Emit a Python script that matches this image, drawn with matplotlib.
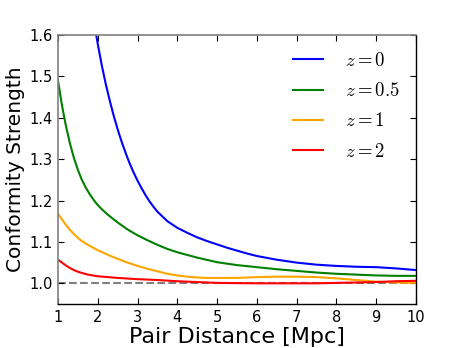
import matplotlib
matplotlib.use("Agg")
import matplotlib.pyplot as plt

plt.rcParams['mathtext.fontset'] = 'cm'
plt.rcParams['font.family'] = ['DejaVu Sans']

x_z0 = [1.8, 1.9, 2.0, 2.1, 2.2, 2.3, 2.4, 2.5, 2.6, 2.7, 2.8, 2.9, 3.0, 3.1, 3.2, 3.3, 3.4, 3.5,
        3.75, 4.0, 4.25, 4.5, 4.75, 5.0, 5.25, 5.5, 5.75, 6.0, 6.5, 7.0, 7.5, 8.0, 8.5, 9.0, 9.5, 10.0]
z0 = [1.700, 1.635, 1.578, 1.527, 1.482, 1.442, 1.405, 1.372, 1.342, 1.315, 1.290, 1.268, 1.248,
      1.230, 1.213, 1.198, 1.185, 1.173, 1.150, 1.134, 1.122, 1.111, 1.102, 1.094, 1.086, 1.079,
      1.072, 1.066, 1.057, 1.050, 1.045, 1.042, 1.040, 1.039, 1.036, 1.032]

x_z05 = [1.0, 1.1, 1.2, 1.3, 1.4, 1.5, 1.6, 1.7, 1.8, 1.9, 2.0, 2.1, 2.25, 2.5, 2.75, 3.0, 3.25,
         3.5, 3.75, 4.0, 4.5, 5.0, 5.5, 6.0, 6.5, 7.0, 7.5, 8.0, 8.5, 9.0, 9.5, 10.0]
z05 = [1.490, 1.430, 1.380, 1.338, 1.303, 1.274, 1.250, 1.231, 1.215, 1.201, 1.189, 1.179, 1.166,
       1.147, 1.130, 1.116, 1.104, 1.093, 1.083, 1.075, 1.062, 1.051, 1.044, 1.039, 1.034, 1.030,
       1.026, 1.023, 1.021, 1.019, 1.018, 1.018]

x_z1 = [1.0, 1.1, 1.2, 1.3, 1.4, 1.5, 1.6, 1.75, 2.0, 2.25, 2.5, 2.75, 3.0, 3.25, 3.5, 3.75, 4.0,
        4.25, 4.5, 4.75, 5.0, 5.5, 6.0, 6.5, 7.0, 7.5, 8.0, 8.5, 9.0, 9.5, 10.0]
z1 = [1.169, 1.154, 1.141, 1.129, 1.119, 1.110, 1.102, 1.093, 1.080, 1.069, 1.059, 1.050, 1.042,
      1.035, 1.029, 1.023, 1.019, 1.016, 1.014, 1.013, 1.013, 1.013, 1.015, 1.016, 1.016, 1.015,
      1.012, 1.008, 1.004, 1.002, 1.001]

x_z2 = [1.0, 1.1, 1.2, 1.3, 1.4, 1.5, 1.6, 1.75, 2.0, 2.25, 2.5, 3.0, 3.5, 4.0, 4.5, 5.0, 5.5,
        6.0, 6.5, 7.0, 7.5, 8.0, 8.5, 9.0, 9.5, 10.0]
z2 = [1.057, 1.050, 1.043, 1.037, 1.032, 1.028, 1.025, 1.021, 1.017, 1.015, 1.013, 1.010, 1.008,
      1.005, 1.003, 1.001, 1.0005, 1.000, 1.000, 1.000, 1.000, 1.001, 1.002, 1.003, 1.005, 1.006]

labels = [r'$z=0$', r'$z=0.5$', r'$z=1$', r'$z=2$']
colors = ['blue', 'green', 'orange', 'red']

fig = plt.figure(figsize=(4.63, 3.48), dpi=100)
ax = fig.add_axes([58/463, 1-304/348, (416-58)/463, (304-35)/348])

ax.plot(x_z0, z0, color=colors[0], lw=1.5, label=labels[0])
ax.plot(x_z05, z05, color=colors[1], lw=1.5, label=labels[1])
ax.plot(x_z1, z1, color=colors[2], lw=1.5, label=labels[2])
ax.plot(x_z2, z2, color=colors[3], lw=1.5, label=labels[3])
ax.axhline(1.0, color='gray', ls='--', lw=1.5, zorder=0)

ax.set_xlim(1, 10)
ax.set_ylim(0.95, 1.6)
ax.set_xticks(range(1, 11))
ax.set_yticks([1.0, 1.1, 1.2, 1.3, 1.4, 1.5, 1.6])
ax.set_xlabel('Pair Distance [Mpc]', fontsize=16, labelpad=2)
ax.set_ylabel('Conformity Strength', fontsize=14.5, labelpad=3)
ax.tick_params(direction='in', length=4, labelsize=10.5, top=True, right=True, pad=4)

for side in ['left', 'top']:
    ax.spines[side].set_color('gray')
    ax.spines[side].set_linewidth(1.2)
for side in ['right', 'bottom']:
    ax.spines[side].set_color('black')
    ax.spines[side].set_linewidth(1.0)
for t in ax.xaxis.get_major_ticks():
    t.tick2line.set_color('gray')
for t in ax.yaxis.get_major_ticks():
    t.tick1line.set_color('gray')

ax.legend(loc='upper right', frameon=False, fontsize=13.5, handlelength=1.6,
          labelspacing=0.6, handletextpad=1.2, borderaxespad=0.45)

fig.savefig('out.png', dpi=100)
